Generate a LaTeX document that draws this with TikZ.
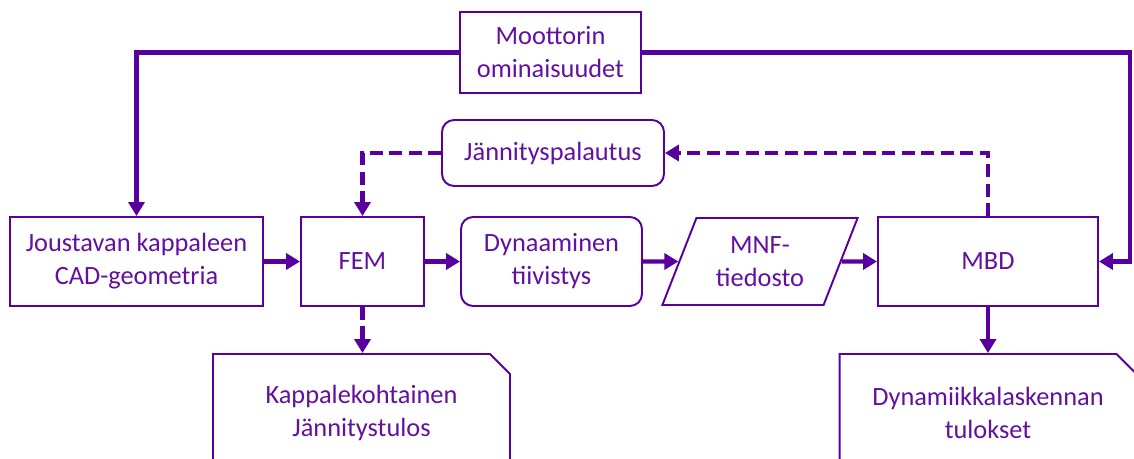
\documentclass[tikz,border=0pt]{standalone}
\usepackage{fontspec}
\setmainfont{Carlito}
\usetikzlibrary{arrows.meta,shapes.geometric,shapes.misc}
\definecolor{violetline}{RGB}{88,0,158}
\definecolor{violettext}{RGB}{98,16,160}

\begin{document}
\begin{tikzpicture}[
		x=0.02cm, y=-0.02cm,
		>={Triangle[length=0.28cm,width=0.32cm]},
		box/.style={draw=violetline, line width=1.1pt, text=violettext,
			align=center, font=\fontsize{15}{18.8}\selectfont,
			minimum height=1.78cm, inner sep=2pt},
		roundbox/.style={box, rounded corners=0.24cm},
		filebox/.style={box, trapezium, trapezium left angle=66,
			trapezium right angle=114, trapezium stretches=true},
		docbox/.style={box, chamfered rectangle, chamfered rectangle corners=north east,
			chamfered rectangle sep=0.2cm},
		flow/.style={->, draw=violetline, line width=2.3pt},
		feedback/.style={flow, dash pattern=on 2.6mm off 1.3mm},
	]

	\clip (0,0) rectangle (1134,459);

	% ---------- upper row ----------
	\node[box, minimum width=3.62cm, minimum height=1.62cm] (moot) at (550.5,52.5)
	{Moottorin\\ominaisuudet};
	\node[roundbox, minimum width=4.44cm, minimum height=1.32cm] (palaute) at (553,153)
	{Jännityspalautus};

	% ---------- main chain ----------
	\node[box, minimum width=5.06cm] (cad) at (136.5,261.5)
	{Joustavan kappaleen\\CAD-geometria};
	\node[box, minimum width=2.46cm] (fem) at (362.5,261.5) {FEM};
	\node[roundbox, minimum width=3.62cm] (tiiv) at (551.5,261.5)
	{Dynaaminen\\tiivistys};
	\node[filebox, minimum width=3.92cm, minimum height=1.74cm] (mnf) at (760,261.5)
	{MNF-\\tiedosto};
	\node[box, minimum width=4.4cm] (mbd) at (988,261.5) {MBD};

	% ---------- results ----------
	\node[docbox, minimum width=5.94cm, minimum height=2.36cm] (jannitys) at (361.5,413)
	{Kappalekohtainen\\Jännitystulos};
	\node[docbox, minimum width=5.94cm, minimum height=2.36cm] (dyntulos) at (988,413)
	{Dynamiikkalaskennan\\tulokset};

	% ---------- connectors ----------
	\draw[flow] (moot.west) -| (cad.north);
	\draw[flow] (moot.east) -| ([xshift=0.62cm]mbd.east) -- (mbd.east);
	\draw[flow] (cad) -- (fem);
	\draw[flow] (fem) -- (tiiv);
	\draw[flow] (tiiv) -- (mnf.west);
	\draw[flow] (mnf.east) -- (mbd);
	\draw[feedback] (palaute.west) -| (fem.north);
	\draw[feedback] (mbd.north) |- (palaute.east);
	\draw[feedback] (fem.south) -- (fem.south |- jannitys.north);
	\draw[flow] (mbd.south) -- (mbd.south |- dyntulos.north);

\end{tikzpicture}
\end{document}
